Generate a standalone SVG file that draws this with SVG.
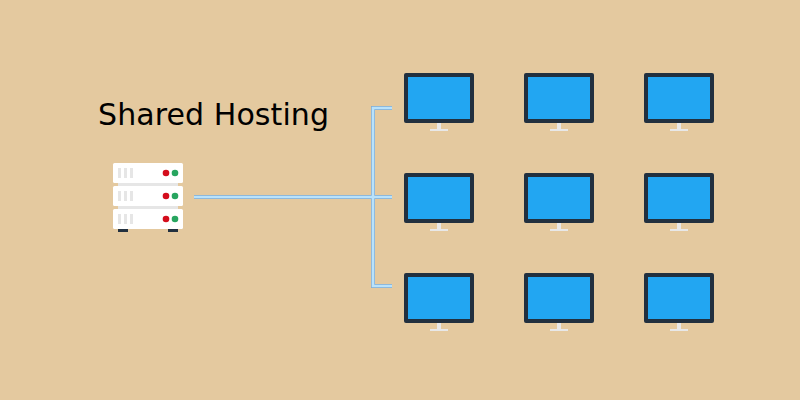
<svg xmlns="http://www.w3.org/2000/svg" xmlns:xlink="http://www.w3.org/1999/xlink" width="800" height="400" viewBox="0 0 800 400">
<style>
.title{font-family:"DejaVu Sans",sans-serif;font-size:30px;fill:#000}
.frame{fill:#22303f}.screen{fill:#22a6f2}.stand{fill:#e8e8e8}
.unit{fill:#fff}.slot{fill:#e6e6e6}.red{fill:#d40d1c}.green{fill:#27a55f}.foot{fill:#22303f}
.wire{fill:none;stroke-linejoin:miter}
</style>
<defs>
<g id="monitor">
<rect class="frame" x="0" y="0" width="70" height="50" rx="2"/>
<rect class="screen" x="4" y="4" width="62" height="42"/>
<rect class="stand" x="33" y="50" width="4" height="6"/>
<rect class="stand" x="26" y="56" width="18" height="2"/>
</g>
<g id="unit">
<rect class="unit" x="0" y="0" width="70" height="20" rx="1.5"/>
<rect class="slot" x="5" y="5" width="3" height="10"/>
<rect class="slot" x="11" y="5" width="3" height="10"/>
<rect class="slot" x="17" y="5" width="3" height="10"/>
<circle class="red" cx="53" cy="10" r="3.3"/>
<circle class="green" cx="62" cy="10" r="3.3"/>
</g>
</defs>
<rect width="800" height="400" fill="#e4c99f"/>
<text class="title" x="98" y="125" textLength="231" lengthAdjust="spacing">Shared Hosting</text>
<g id="connectors">
<path class="wire" stroke="#7faad0" stroke-width="4" d="M194 197H392M392 108H373V286H392"/>
<path class="wire" stroke="#b9e2fb" stroke-width="2.6" d="M194 197H392M392 108H373V286H392"/>
</g>
<g id="server">
<rect class="slot" x="118" y="183" width="60" height="3"/>
<rect class="slot" x="118" y="206" width="60" height="3"/>
<rect class="foot" x="118" y="229" width="10" height="3"/>
<rect class="foot" x="168" y="229" width="10" height="3"/>
<use xlink:href="#unit" href="#unit" x="113" y="163"/>
<use xlink:href="#unit" href="#unit" x="113" y="186"/>
<use xlink:href="#unit" href="#unit" x="113" y="209"/>
</g>
<g id="monitor-1"><use href="#monitor" x="404" y="73"/></g>
<g id="monitor-2"><use href="#monitor" x="524" y="73"/></g>
<g id="monitor-3"><use href="#monitor" x="644" y="73"/></g>
<g id="monitor-4"><use href="#monitor" x="404" y="173"/></g>
<g id="monitor-5"><use href="#monitor" x="524" y="173"/></g>
<g id="monitor-6"><use href="#monitor" x="644" y="173"/></g>
<g id="monitor-7"><use href="#monitor" x="404" y="273"/></g>
<g id="monitor-8"><use href="#monitor" x="524" y="273"/></g>
<g id="monitor-9"><use href="#monitor" x="644" y="273"/></g>
</svg>
